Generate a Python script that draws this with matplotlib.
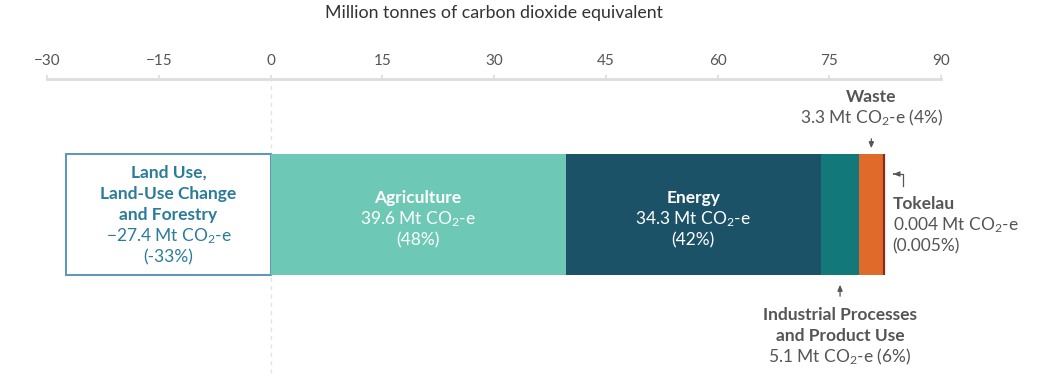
import matplotlib
matplotlib.use("Agg")
import matplotlib.pyplot as plt
import numpy as np

plt.rcParams['font.family'] = ['Lato', 'DejaVu Sans']
plt.rcParams['mathtext.fontset'] = 'custom'
plt.rcParams['mathtext.rm'] = 'Lato'
plt.rcParams['mathtext.it'] = 'Lato:italic'
plt.rcParams['mathtext.bf'] = 'Lato:bold'

# ---- data ----
categories = ["Land Use,\nLand-Use Change\nand Forestry", "Agriculture", "Energy",
              "Industrial Processes\nand Product Use", "Waste", "Tokelau"]
values = [-27.4, 39.6, 34.3, 5.1, 3.3, 0.004]
value_text = ["\u221227.4", "39.6", "34.3", "5.1", "3.3", "0.004"]
pct_text = ["(-33%)", "(48%)", "(42%)", "(6%)", "(4%)", "(0.005%)"]
ticks = [-30, -15, 0, 15, 30, 45, 60, 75, 90]
axis_title = "Million tonnes of carbon dioxide equivalent"

face = ["white", "#6dc9b6", "#1b5268", "#13787a", "#e06a29", "#8a2b1e"]
edge = ["#6496b6", "#6dc9b6", "#1b5268", "#13787a", "#e06a29", "#8a2b1e"]
grey = "#555555"

W, H = 1050, 379
fig = plt.figure(figsize=(W / 100, H / 100), dpi=100)
ax = fig.add_axes([47 / W, 0, 894 / W, 1])
ax.set_xlim(-30, 90)
ax.set_ylim(H, 0)

# positions
lefts = []
pos = 0.0
for v in values:
    if v < 0:
        lefts.append(v)
    else:
        lefts.append(pos)
        pos += v
widths = [abs(v) for v in values]

bar_y = 214.5
bar_h = 121
ax.axvline(0, ymin=0.015, ymax=1 - 80 / H, color="#e3e3e3", lw=1, ls=(0, (3, 3)), zorder=0)
for i in range(len(values)):
    lw = 1.5 if i == 0 else (1.6 if i == 5 else 0)
    ax.barh(bar_y, widths[i], left=lefts[i], height=bar_h, color=face[i],
            edgecolor=edge[i], linewidth=lw, zorder=2)

# axis styling
for s in ["left", "right", "bottom"]:
    ax.spines[s].set_visible(False)
ax.spines["top"].set_position(("data", 79))
ax.spines["top"].set_color("#dddddd")
ax.spines["top"].set_linewidth(2)
ax.xaxis.tick_top()
ax.set_xticks(ticks)
ax.set_xticklabels([f"{t}".replace("-", "\u2212") for t in ticks])
ax.tick_params(axis="x", colors="#dddddd", labelcolor=grey, length=3, width=1.2,
               labelsize=11, pad=5)
ax.set_yticks([])
ax.text(30, 13, axis_title, ha="center", va="center", fontsize=12.75, color="#333333")

co2 = " Mt CO$_2$-e"
fs = 12.5

def centre(i):
    return lefts[i] + widths[i] / 2

# LULUCF
c = centre(0)
lc = "#2b7b9b"
for k, line in enumerate(categories[0].split("\n")):
    ax.text(c, 173 + 21 * k, line, ha="center", va="center", fontsize=fs,
            fontweight="bold", color=lc, zorder=3)
ax.text(c, 236, value_text[0] + co2, ha="center", va="center", fontsize=fs, color=lc, zorder=3)
ax.text(c, 257, pct_text[0], ha="center", va="center", fontsize=fs, color=lc, zorder=3)

# Agriculture and Energy
for i in (1, 2):
    c = centre(i)
    ax.text(c, 198, categories[i], ha="center", va="center", fontsize=fs,
            fontweight="bold", color="white", zorder=3)
    ax.text(c, 219, value_text[i] + co2, ha="center", va="center", fontsize=fs,
            color="white", zorder=3)
    ax.text(c, 240, pct_text[i], ha="center", va="center", fontsize=fs,
            color="white", zorder=3)

# IPPU (below)
c = centre(3)
ax.annotate("", xy=(c, 282), xytext=(c, 299),
            arrowprops=dict(arrowstyle="-|>,head_length=0.35,head_width=0.15",
                            color=grey, lw=0.9))
for k, line in enumerate(categories[3].split("\n")):
    ax.text(c, 315 + 21 * k, line, ha="center", va="center", fontsize=fs,
            fontweight="bold", color=grey)
ax.text(c, 357, value_text[3] + co2 + " " + pct_text[3], ha="center", va="center",
        fontsize=fs, color=grey)

# Waste (above)
c = centre(4)
ax.annotate("", xy=(c, 151), xytext=(c, 136),
            arrowprops=dict(arrowstyle="-|>,head_length=0.35,head_width=0.15",
                            color=grey, lw=0.9))
ax.text(c, 97, categories[4], ha="center", va="center", fontsize=fs,
        fontweight="bold", color=grey)
ax.text(c, 118, value_text[4] + co2 + " " + pct_text[4], ha="center", va="center",
        fontsize=fs, color=grey)

# Tokelau (right)
xt = lefts[5] + widths[5]
px = 120 / 894
ax.plot([xt + 19 * px, xt + 19 * px, xt + 12 * px], [186, 174, 174], color=grey, lw=0.9)
ax.annotate("", xy=(xt + 7 * px, 174), xytext=(xt + 13 * px, 174),
            arrowprops=dict(arrowstyle="-|>,head_length=0.35,head_width=0.15",
                            color=grey, lw=0.9))
tx = xt + 9 * px
ax.text(tx, 204, categories[5], ha="left", va="center", fontsize=fs,
        fontweight="bold", color=grey)
ax.text(tx, 225, value_text[5] + co2, ha="left", va="center", fontsize=fs, color=grey)
ax.text(tx, 246, pct_text[5], ha="left", va="center", fontsize=fs, color=grey)

fig.savefig("out.png", dpi=100)
